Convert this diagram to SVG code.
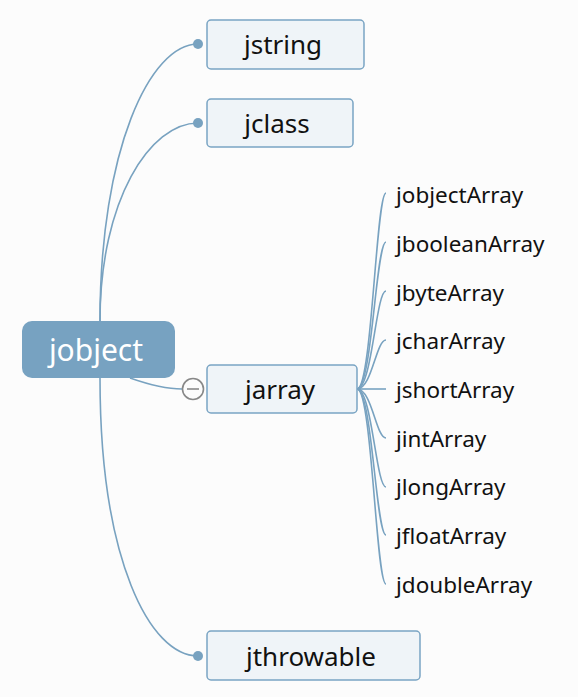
<svg xmlns="http://www.w3.org/2000/svg" width="578" height="697" viewBox="0 0 578 697">
<style>
.bg{fill:#fcfcfc}
.n{fill:#eff4f8;stroke:#79a4c3;stroke-width:1.5}
.t{font-family:"Noto Sans","Liberation Sans",sans-serif;fill:#111;text-anchor:middle;font-size:26px}
.c{font-family:"Noto Sans","Liberation Sans",sans-serif;fill:#111;font-size:22.5px}
.e{fill:none;stroke:#78a2c0;stroke-width:1.6}
.d{fill:#78a2c0}
</style>
<rect class="bg" x="0" y="0" width="578" height="697"/>
<g id="connectors">
<path class="e" d="M100,321 C100,150 150,44 198,44"/>
<path class="e" d="M100,321 C100,200 150,123 198,123"/>
<path class="e" d="M100,378 C100,560 150,656 198,656"/>
<path class="e" d="M130,378 C150,385 165,389 182,389"/>
<circle class="d" cx="198" cy="44" r="5"/>
<circle class="d" cx="198" cy="123" r="5"/>
<circle class="d" cx="198" cy="656" r="5"/>
<path class="e" d="M357,389 C372,389 376,193 386,193"/>
<path class="e" d="M357,389 C372,389 376,242 386,242"/>
<path class="e" d="M357,389 C372,389 376,291 386,291"/>
<path class="e" d="M357,389 C372,389 376,340 386,340"/>
<path class="e" d="M357,389 L386,389"/>
<path class="e" d="M357,389 C372,389 376,438 386,438"/>
<path class="e" d="M357,389 C372,389 376,487 386,487"/>
<path class="e" d="M357,389 C372,389 376,535 386,535"/>
<path class="e" d="M357,389 C372,389 376,584 386,584"/>
</g>
<g id="jobject">
<rect x="22" y="321" width="153" height="57" rx="10" fill="#77a2c1"/>
<text class="t" x="96" y="361" style="fill:#fff;font-size:30px">jobject</text>
</g>
<g id="jstring">
<rect class="n" x="207" y="20" width="157" height="49" rx="4"/>
<text class="t" x="283" y="54">jstring</text>
</g>
<g id="jclass">
<rect class="n" x="207" y="99" width="146" height="48" rx="4"/>
<text class="t" x="277" y="133">jclass</text>
</g>
<g id="jarray">
<rect class="n" x="207" y="365" width="150" height="48" rx="4"/>
<text class="t" x="280" y="399">jarray</text>
<circle cx="193" cy="389" r="10.5" fill="#fcfcfc" stroke="#888" stroke-width="1.6"/>
<line x1="187" y1="389" x2="199" y2="389" stroke="#888" stroke-width="1.6"/>
</g>
<g id="jthrowable">
<rect class="n" x="207" y="631" width="213" height="49" rx="4"/>
<text class="t" x="311" y="666">jthrowable</text>
</g>
<g id="jobjectArray"><text class="c" x="396" y="203">jobjectArray</text></g>
<g id="jbooleanArray"><text class="c" x="396" y="252">jbooleanArray</text></g>
<g id="jbyteArray"><text class="c" x="396" y="301">jbyteArray</text></g>
<g id="jcharArray"><text class="c" x="396" y="349">jcharArray</text></g>
<g id="jshortArray"><text class="c" x="396" y="398">jshortArray</text></g>
<g id="jintArray"><text class="c" x="396" y="447">jintArray</text></g>
<g id="jlongArray"><text class="c" x="396" y="495">jlongArray</text></g>
<g id="jfloatArray"><text class="c" x="396" y="544">jfloatArray</text></g>
<g id="jdoubleArray"><text class="c" x="396" y="593">jdoubleArray</text></g>
</svg>
